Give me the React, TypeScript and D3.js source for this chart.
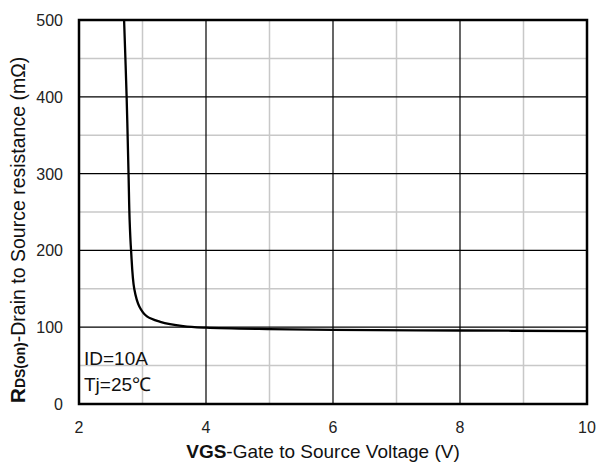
import React, { useEffect, useRef } from 'react';
import * as d3 from 'd3';

// RDS(on) vs VGS, ID=10A, Tj=25C
const vgs = [2.71, 2.75, 2.78, 2.797, 2.82, 2.87, 2.95, 3.07, 3.28, 3.64, 4, 5, 6, 8, 10];
const rdson = [500, 400, 300, 240, 200, 150, 127, 114, 107, 101.5, 99.4, 97.5, 96.5, 95.7, 95];
const xTicks = [2, 4, 6, 8, 10];
const xMinor = [3, 5, 7, 9];
const yTicks = [0, 100, 200, 300, 400, 500];
const yMinor = [50, 150, 250, 350, 450];
const notes = ['ID=10A', 'Tj=25\u2103'];

const W = 598;
const H = 464;
const margin = { top: 20, right: 11, bottom: 60, left: 79 };
const font = 'Arial, "Liberation Sans", sans-serif';

const App: React.FC = () => {
  const ref = useRef<SVGSVGElement | null>(null);

  useEffect(() => {
    if (!ref.current) return;
    const svg = d3.select(ref.current);
    svg.selectAll('*').remove();

    const x = d3.scaleLinear().domain([2, 10]).range([margin.left, W - margin.right]);
    const y = d3.scaleLinear().domain([0, 500]).range([H - margin.bottom, margin.top]);

    const g = svg.append('g');

    // minor grid (gray)
    g.selectAll('line.vminor').data(xMinor).join('line')
      .attr('x1', d => x(d)).attr('x2', d => x(d))
      .attr('y1', y(0)).attr('y2', y(500))
      .attr('stroke', '#c8c8c8').attr('stroke-width', 1.5);
    g.selectAll('line.hminor').data(yMinor).join('line')
      .attr('y1', d => y(d)).attr('y2', d => y(d))
      .attr('x1', x(2)).attr('x2', x(10))
      .attr('stroke', '#c8c8c8').attr('stroke-width', 1.5);

    // major grid (black)
    g.selectAll('line.vmajor').data(xTicks.slice(1, -1)).join('line')
      .attr('x1', d => x(d)).attr('x2', d => x(d))
      .attr('y1', y(0)).attr('y2', y(500))
      .attr('stroke', '#000').attr('stroke-width', 1.2);
    g.selectAll('line.hmajor').data(yTicks.slice(1, -1)).join('line')
      .attr('y1', d => y(d)).attr('y2', d => y(d))
      .attr('x1', x(2)).attr('x2', x(10))
      .attr('stroke', '#000').attr('stroke-width', 1.2);

    // curve
    const pts = vgs.map((v, i) => [v, rdson[i]] as [number, number]);
    const line = d3.line<[number, number]>()
      .x(d => x(d[0])).y(d => y(d[1]))
      .curve(d3.curveCatmullRom.alpha(0.5));
    g.append('path').datum(pts)
      .attr('d', line)
      .attr('fill', 'none').attr('stroke', '#000').attr('stroke-width', 2.3);

    // frame
    g.append('rect')
      .attr('x', x(2)).attr('y', y(500))
      .attr('width', x(10) - x(2)).attr('height', y(0) - y(500))
      .attr('fill', 'none').attr('stroke', '#000').attr('stroke-width', 2.5);

    // tick labels
    g.selectAll('text.xt').data(xTicks).join('text')
      .attr('x', d => x(d)).attr('y', y(0) + 29)
      .attr('text-anchor', 'middle')
      .attr('font-family', font).attr('font-size', 16).attr('fill', '#222')
      .text(d => d);
    g.selectAll('text.yt').data(yTicks).join('text')
      .attr('x', x(2) - 16).attr('y', d => y(d) + 6)
      .attr('text-anchor', 'end')
      .attr('font-family', font).attr('font-size', 16).attr('fill', '#222')
      .text(d => d);

    // notes inside plot
    g.selectAll('text.note').data(notes).join('text')
      .attr('x', x(2) + 5).attr('y', (d, i) => 365 + i * 26)
      .attr('font-family', font).attr('font-size', 19).attr('fill', '#111')
      .text(d => d);

    // x axis title
    const xt = g.append('text')
      .attr('x', 323).attr('y', 458)
      .attr('text-anchor', 'middle')
      .attr('font-family', font).attr('font-size', 19).attr('fill', '#111');
    xt.append('tspan').attr('font-weight', 'bold').text('VGS');
    xt.append('tspan').text('-Gate to Source Voltage (V)');

    // y axis title
    const yt = g.append('text')
      .attr('transform', `translate(25,${230}) rotate(-90)`)
      .attr('text-anchor', 'middle')
      .attr('font-family', font).attr('font-size', 19.5).attr('fill', '#111');
    yt.append('tspan').attr('font-weight', 'bold').attr('font-size', 21).text('R');
    yt.append('tspan').attr('font-weight', 'bold').attr('font-size', 14).text('DS(on)');
    yt.append('tspan').text('-Drain to Source resistance (m\u03A9)');
  }, []);

  return <svg ref={ref} width={W} height={H} style={{ position: 'absolute', left: 0, top: 0, background: '#fff' }} />;
};

export default App;
